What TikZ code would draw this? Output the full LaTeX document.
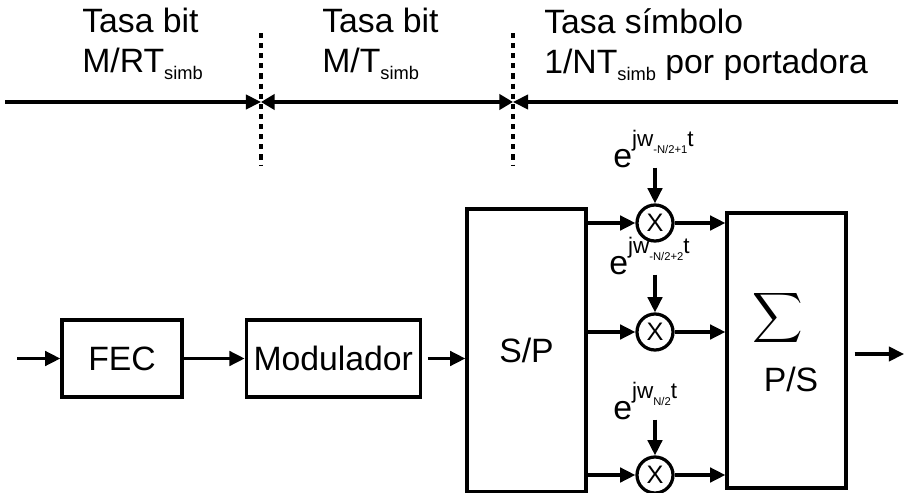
\documentclass[tikz,border=0pt]{standalone}
\usepackage{fontspec}
\setmainfont{Liberation Sans}
\usepackage{exscale}
\usetikzlibrary{arrows.meta,positioning}
\newcommand{\tsimb}{\raisebox{-5pt}{\fontsize{13}{13}\selectfont simb}}
\newcommand{\expw}[1]{e\raisebox{0.6em}{\fontsize{16}{16}\selectfont jw\raisebox{-0.3em}{\fontsize{8}{8}\selectfont #1}t}}

\begin{document}
\begin{tikzpicture}[
  x=0.025cm, y=-0.025cm,
  bigfont/.style={font=\fontsize{24}{28.5}\selectfont},
  block/.style={
    rectangle,
    draw=black,
    line width=2.3pt,
    inner sep=0pt,
    bigfont,
    minimum height=1.925cm
  },
  mult/.style={
    circle,
    draw=black,
    line width=2.3pt,
    inner sep=0pt,
    minimum size=0.9cm,
    font=\fontsize{18}{18}\selectfont
  },
  rate/.style={bigfont, align=left, inner sep=0pt, anchor=north west},
  carrier/.style={bigfont, inner sep=0pt, anchor=base west},
  arrow/.style={-{Triangle[length=3.8mm,width=3.6mm]}, line width=2.3pt},
  twoway/.style={{Triangle[length=3.4mm,width=3.8mm]}-{Triangle[length=3.4mm,width=3.8mm]}, line width=2.3pt},
  divider/.style={dash pattern=on 3.6pt off 3.6pt, line width=2.3pt}
]
\useasboundingbox (0,0) rectangle (904,493);

% rates on top
\node[rate] (rate1) at (82,8) {Tasa bit\\M/RT\tsimb};
\node[rate] (rate2) at (322,8) {Tasa bit\\M/T\tsimb};
\node[rate] (rate3) at (544,8) {Tasa símbolo\\1/NT\tsimb{} por portadora};

\coordinate (start) at (5,102);
\coordinate (stop) at (898,102);
\coordinate (cut1) at (261,102);
\coordinate (cut2) at (513,102);
\coordinate (cut1top) at (261,33);
\coordinate (cut1bot) at (261,165);
\coordinate (cut2top) at (513,33);
\coordinate (cut2bot) at (513,165);

\draw[divider] (cut1top) -- (cut1bot);
\draw[divider] (cut2top) -- (cut2bot);
\draw[arrow] (start) -- (cut1);
\draw[twoway] (cut1) -- (cut2);
\draw[arrow] (stop) -- (cut2);

% transmitter chain
\node[block, minimum width=3cm] (fec) at (122,358.5) {FEC};
\node[block, minimum width=4.35cm, right=1.525cm of fec] (mod) {Modulador};
\node[block, minimum width=2.975cm, minimum height=7.075cm] (sp) at (526.5,350.5) {S/P};
\node[block, minimum width=2.975cm, minimum height=6.875cm] (ps) at (786.5,350.5) {};
\node[font=\fontsize{30}{30}\selectfont] (sigma) at (778,317.5) {$\displaystyle\sum$};
\node[bigfont] (pslabel) at (791,379.5) {P/S};

\node[mult] (m1) at (655,223) {X};
\node[mult] (m2) at (655,332) {X};
\node[mult] (m3) at (655,475) {X};

\node[carrier] (e1) at (613,167) {\expw{-N/2+1}};
\node[carrier] (e2) at (609,274) {\expw{-N/2+2}};
\node[carrier] (e3) at (613,419) {\expw{N/2}};

\coordinate (in) at (17,358.5);
\coordinate (out) at (904,354);

\draw[arrow] (in) -- (fec);
\draw[arrow] (fec) -- (mod);
\draw[arrow, shorten <=0.15cm] (mod) -- (mod -| sp.west);
\draw[arrow] (sp.east |- m1) -- (m1);
\draw[arrow] (sp.east |- m2) -- (m2);
\draw[arrow] (sp.east |- m3) -- (m3);
\draw[arrow] (m1) -- (m1 -| ps.west);
\draw[arrow] (m2) -- (m2 -| ps.west);
\draw[arrow] (m3) -- (m3 -| ps.west);
\draw[arrow] (e1.south -| m1) -- (m1);
\draw[arrow] (e2.south -| m2) -- (m2);
\draw[arrow] (e3.south -| m3) -- (m3);
\draw[arrow, shorten <=0.175cm] (ps.east |- out) -- (out);

\end{tikzpicture}
\end{document}
